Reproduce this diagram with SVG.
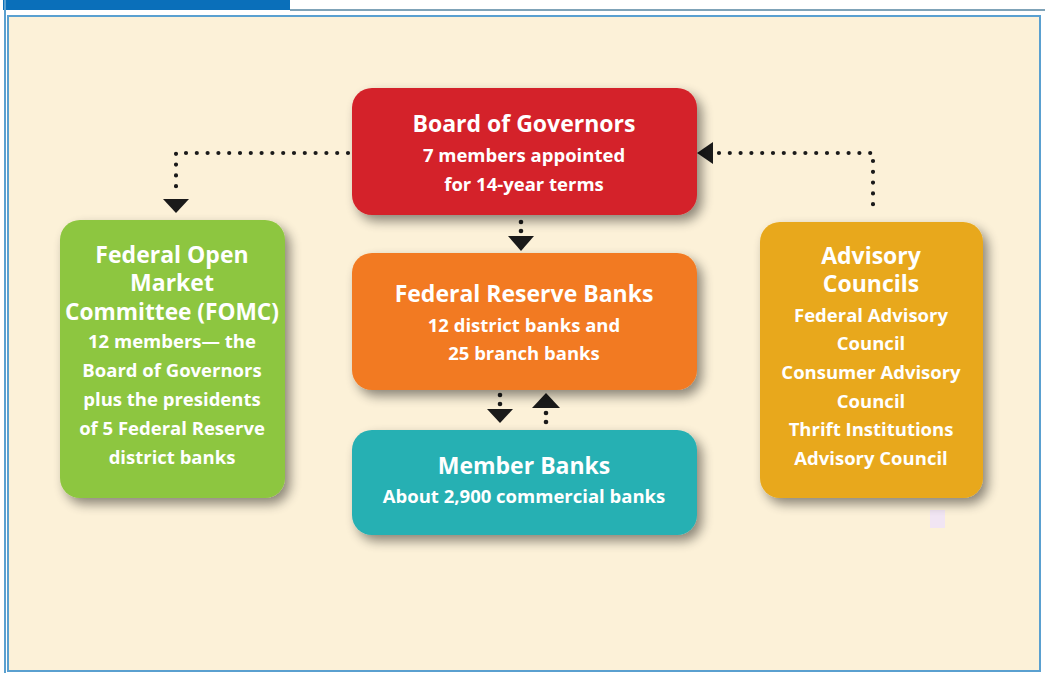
<svg xmlns="http://www.w3.org/2000/svg" width="1045" height="673" viewBox="0 0 1045 673">
<style>
.t{font-family:"Open Sans","Liberation Sans",sans-serif;font-weight:bold;fill:#fff;text-anchor:middle}
.h{font-size:23px}
.b{font-size:18.5px}
.dot{fill:none;stroke:#1a1a1a;stroke-width:4.2;stroke-linecap:round;stroke-dasharray:0 10.8}
.ah,.d{fill:#1a1a1a}
</style>
<defs>
<filter id="sh" x="-20%" y="-20%" width="150%" height="150%">
<feGaussianBlur in="SourceAlpha" stdDeviation="6"/>
<feOffset dx="5" dy="6"/>
<feComponentTransfer><feFuncA type="linear" slope="0.45"/></feComponentTransfer>
<feMerge><feMergeNode/><feMergeNode in="SourceGraphic"/></feMerge>
</filter>
</defs>
<rect width="1045" height="673" fill="#ffffff"/>
<rect x="3" y="0" width="287" height="10" fill="#0a6fba"/>
<line x1="290" y1="10" x2="1045" y2="10" stroke="#7fa3b8" stroke-width="2"/>
<line x1="5" y1="0" x2="5" y2="673" stroke="#5aa0d0" stroke-width="2"/>
<rect x="8" y="16" width="1032" height="655" fill="#fcf1d8" stroke="#5aa0d0" stroke-width="2"/>
<rect x="930" y="510" width="15" height="18" fill="#f1e5f3"/>
<g id="connectors">
<polyline class="dot" points="348,153 176,153 176,195"/>
<polygon class="ah" points="163,199 189,199 176,213"/>
<polyline class="dot" points="719,153 873,153 873,213"/>
<polygon class="ah" points="713,142 713,164 697,153"/>
<circle class="d" cx="521" cy="222" r="2.3"/>
<circle class="d" cx="521" cy="231" r="2.3"/>
<polygon class="ah" points="508,236 534,236 521,251"/>
<circle class="d" cx="500" cy="395" r="2.3"/>
<circle class="d" cx="500" cy="404" r="2.3"/>
<polygon class="ah" points="487,409 513,409 500,423"/>
<circle class="d" cx="546" cy="413" r="2.3"/>
<circle class="d" cx="546" cy="422" r="2.3"/>
<polygon class="ah" points="532,408 560,408 546,393"/>
</g>
<g id="board">
<rect x="352" y="88" width="345" height="127" rx="20" fill="#d42229" filter="url(#sh)"/>
<text class="t h" x="524" y="132">Board of Governors</text>
<text class="t b" x="524" y="162">7 members appointed</text>
<text class="t b" x="524" y="191">for 14-year terms</text>
</g>
<g id="frb">
<rect x="352" y="253" width="345" height="137" rx="20" fill="#f27a22" filter="url(#sh)"/>
<text class="t h" x="524" y="302">Federal Reserve Banks</text>
<text class="t b" x="524" y="332">12 district banks and</text>
<text class="t b" x="524" y="360">25 branch banks</text>
</g>
<g id="member">
<rect x="352" y="430" width="345" height="105" rx="20" fill="#25b0b3" filter="url(#sh)"/>
<text class="t h" x="524" y="474">Member Banks</text>
<text class="t b" x="524" y="503">About 2,900 commercial banks</text>
</g>
<g id="fomc">
<rect x="60" y="220" width="225" height="278" rx="20" fill="#8dc63f" filter="url(#sh)"/>
<text class="t h" x="172" y="263">Federal Open</text>
<text class="t h" x="172" y="291">Market</text>
<text class="t h" x="172" y="320" textLength="214" lengthAdjust="spacingAndGlyphs">Committee (FOMC)</text>
<text class="t b" x="172" y="348">12 members— the</text>
<text class="t b" x="172" y="377">Board of Governors</text>
<text class="t b" x="172" y="406">plus the presidents</text>
<text class="t b" x="172" y="435">of 5 Federal Reserve</text>
<text class="t b" x="172" y="464">district banks</text>
</g>
<g id="advisory">
<rect x="760" y="222" width="223" height="276" rx="20" fill="#e8a81a" filter="url(#sh)"/>
<text class="t h" x="871" y="264">Advisory</text>
<text class="t h" x="871" y="292">Councils</text>
<text class="t b" x="871" y="322">Federal Advisory</text>
<text class="t b" x="871" y="350">Council</text>
<text class="t b" x="871" y="379">Consumer Advisory</text>
<text class="t b" x="871" y="408">Council</text>
<text class="t b" x="871" y="436">Thrift Institutions</text>
<text class="t b" x="871" y="465">Advisory Council</text>
</g>
</svg>
